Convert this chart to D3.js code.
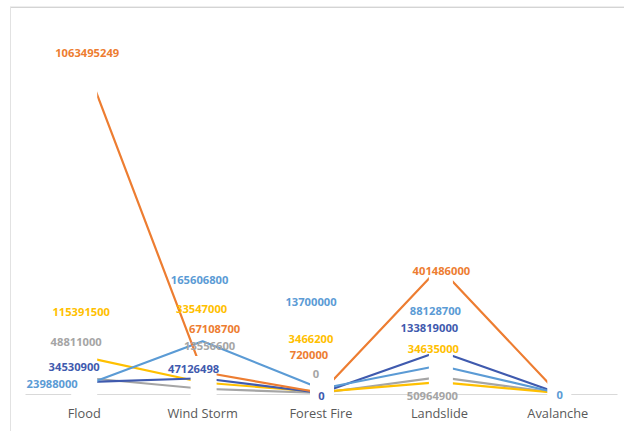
<!DOCTYPE html>
<html>
<head>
<meta charset="utf-8">
<script src="https://cdn.jsdelivr.net/npm/d3@7/dist/d3.min.js"></script>
<style>
  html, body { margin: 0; padding: 0; background: #fff; }
  svg { display: block; }
</style>
</head>
<body>
<svg id="chart" width="624" height="431"></svg>
<script>
// Hazard categories along the x axis
const categories = ["Flood", "Wind Storm", "Forest Fire", "Landslide", "Avalanche"];

// Values per hazard for each series
const valuesOrange    = [1063495249, 67108700, 720000, 401486000, 0];
const valuesLightBlue = [23988000, 165606800, 13700000, 88128700, 0];
const valuesDarkBlue  = [34530900, 47126498, 0, 133819000, 0];
const valuesGold      = [115391500, 33547000, 3466200, 34635000, 0];
const valuesGray      = [48811000, 13556600, 0, 50964900, 0];

// Which data labels are shown (avalanche labels stack on one spot; only one shows)
const showOrange    = [true, true, true, true, false];
const showLightBlue = [true, true, true, true, true];
const showDarkBlue  = [true, true, true, true, false];
const showGold      = [true, true, true, true, false];
const showGray      = [true, true, true, true, false];

// ---- layout ----
const series = [
  { values: valuesGray,      show: showGray,      color: "#A5A5A5",
    offsets: [[-8, -36], [7, -43], [-5, -20], [-7, 18], null] },
  { values: valuesGold,      show: showGold,      color: "#FFC000",
    offsets: [[-3, -45], [-1, -74], [-10, -53], [-6, -34], null] },
  { values: valuesDarkBlue,  show: showDarkBlue,  color: "#3F5AAE",
    offsets: [[-10, -16], [-9, -10], [0.5, 2], [-10, -24], null] },
  { values: valuesLightBlue, show: showLightBlue, color: "#5B9BD5",
    offsets: [[-32, -2.5], [-3, -62], [-10, -87], [-4, -55], [2, 1]] },
  { values: valuesOrange,    show: showOrange,    color: "#ED7D31",
    offsets: [[3, -8], [12, -44], [-12, -38], [2, 2.5], null] }
];

// white label boxes sitting on each category point: [dx, halfWidth, top]
const pointBoxes = [[0, 13, 60], [1, 13, 356], [1, 12, 372], [1.5, 12, 258], [1.5, 12, 380]];

const svg = d3.select("#chart");

// chart frame
svg.append("line").attr("x1", 10).attr("x2", 624).attr("y1", 7.5).attr("y2", 7.5)
  .attr("stroke", "#d4d4d4").attr("stroke-width", 1);
svg.append("line").attr("x1", 10).attr("x2", 624).attr("y1", 6.5).attr("y2", 6.5)
  .attr("stroke", "#eeeeee").attr("stroke-width", 1);
svg.append("line").attr("x1", 10.5).attr("x2", 10.5).attr("y1", 7).attr("y2", 431)
  .attr("stroke", "#e2e2e2").attr("stroke-width", 1);

const x = d3.scaleBand().domain(categories).range([25, 617]).paddingInner(0).paddingOuter(0);
const cx = c => x(c) + x.bandwidth() / 2;
const y = d3.scaleLinear().domain([0, 1200000000]).range([393, 18]);

// category axis
const axis = svg.append("g").attr("transform", "translate(0,394)")
  .call(d3.axisBottom(x).tickSize(0).tickPadding(15));
axis.select(".domain").attr("stroke", "#D9D9D9").attr("stroke-width", 1);
axis.selectAll("text")
  .attr("font-family", "'Open Sans', 'Liberation Sans', sans-serif")
  .attr("font-size", "12.8px")
  .attr("fill", "#595959");

// series lines
const line = d3.line().x((d, i) => cx(categories[i])).y(d => y(d));
svg.append("g").selectAll("path").data(series).join("path")
  .attr("d", s => line(s.values))
  .attr("fill", "none")
  .attr("stroke", s => s.color)
  .attr("stroke-width", 2.2)
  .attr("stroke-linejoin", "round");

// white label boxes at each point
svg.append("g").selectAll("rect").data(categories).join("rect")
  .attr("x", (c, i) => cx(c) + pointBoxes[i][0] - pointBoxes[i][1])
  .attr("width", (c, i) => pointBoxes[i][1] * 2)
  .attr("y", (c, i) => pointBoxes[i][2])
  .attr("height", (c, i) => 398 - pointBoxes[i][2])
  .attr("fill", "#ffffff");

// data labels
const fmt = d3.format("d");
const labelData = [];
series.forEach(s => {
  s.values.forEach((v, i) => {
    if (!s.show[i] || !s.offsets[i]) return;
    labelData.push({
      x: cx(categories[i]) + s.offsets[i][0],
      y: y(v) + s.offsets[i][1],
      text: fmt(v),
      color: s.color
    });
  });
});
svg.append("g").selectAll("text").data(labelData).join("text")
  .attr("x", d => d.x)
  .attr("y", d => d.y)
  .attr("text-anchor", "middle")
  .attr("dominant-baseline", "central")
  .attr("font-family", "'Open Sans', 'Liberation Sans', sans-serif")
  .attr("font-weight", "bold")
  .attr("font-size", "11.2px")
  .attr("fill", d => d.color)
  .text(d => d.text);
</script>
</body>
</html>
